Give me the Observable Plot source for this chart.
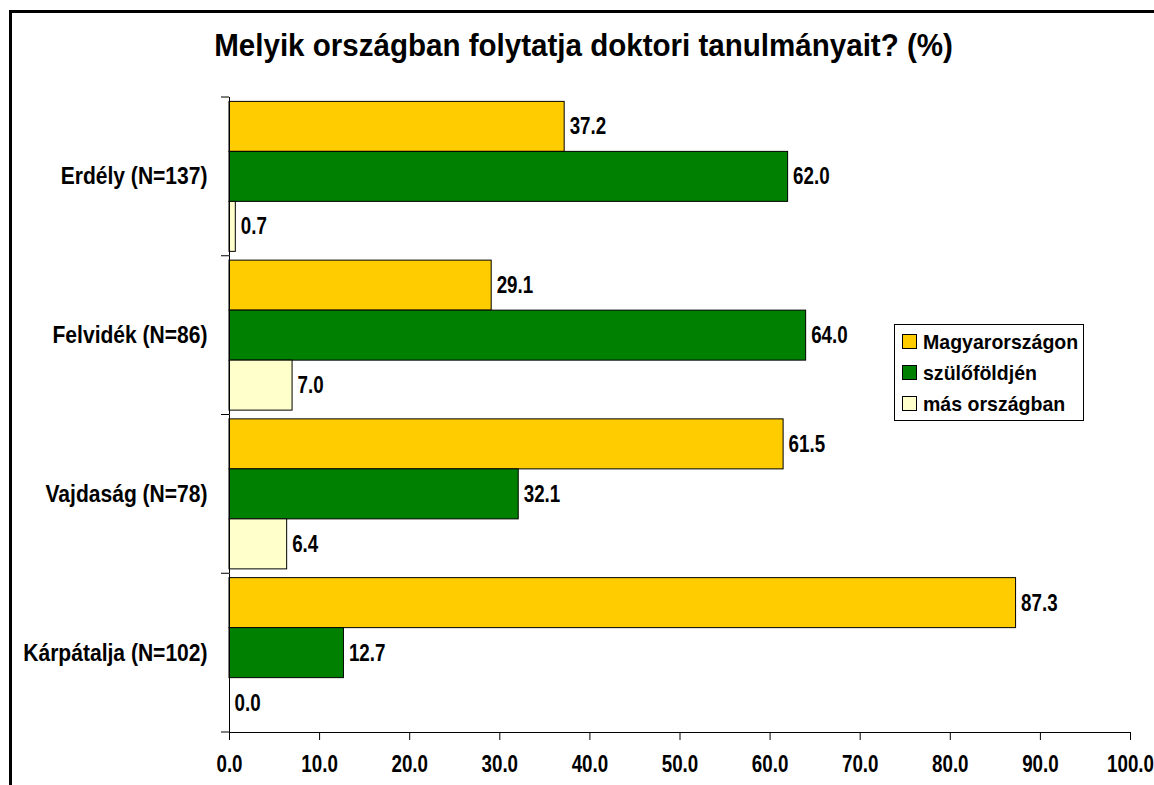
<!DOCTYPE html>
<html>
<head>
<meta charset="utf-8">
<script src="https://cdn.jsdelivr.net/npm/d3@7"></script>
<script src="https://cdn.jsdelivr.net/npm/@observablehq/plot@0.6"></script>
<style>
  html, body { margin: 0; padding: 0; background: #fff; overflow: hidden; width: 1154px; height: 785px; }
  #wrap { position: relative; width: 1154px; height: 785px; overflow: hidden; }
  #frame { position: absolute; left: 9px; top: 10px; width: 1200px; height: 900px; border: 3px solid #000; box-sizing: border-box; pointer-events: none; }
  #title { position: absolute; left: 10px; width: 1148px; top: 28px; text-align: center;
    font-family: "Liberation Sans", Arial, sans-serif; font-weight: bold; font-size: 31px; line-height: 36px; color: #000; }
  #title span { display: inline-block; transform: scaleX(0.953); transform-origin: center; white-space: nowrap; }
  #legend { position: absolute; left: 894px; top: 324px; width: 190px; height: 97px; border: 1px solid #000; box-sizing: border-box; background: #fff;
    font-family: "Liberation Sans", Arial, sans-serif; font-weight: bold; font-size: 21px; }
  .item { position: absolute; left: 7px; height: 24px; line-height: 24px; white-space: nowrap; }
  .sw { display: inline-block; width: 13px; height: 13px; border: 1px solid #000; vertical-align: middle; margin-right: 6px; position: relative; top: -2px; }
  .lt { display: inline-block; transform: scaleX(0.93); transform-origin: left center; }
  #chart { position: absolute; left: 0; top: 0; }
</style>
</head>
<body>
<div id="wrap">
  <div id="chart"></div>
  <div id="title"><span>Melyik országban folytatja doktori tanulmányait? (%)</span></div>
  <div id="legend"></div>
  <div id="frame"></div>
</div>
<script>
const regions = ["Erdély (N=137)", "Felvidék (N=86)", "Vajdaság (N=78)", "Kárpátalja (N=102)"];
const series = ["Magyarországon", "szülőföldjén", "más országban"];
const magyarorszagon = [37.2, 29.1, 61.5, 87.3];
const szulofoldjen = [62.0, 64.0, 32.1, 12.7];
const masOrszagban = [0.7, 7.0, 6.4, 0.0];
const colors = ["#FFCC00", "#008000", "#FFFFCC"];
const xTicks = [0, 10, 20, 30, 40, 50, 60, 70, 80, 90, 100];

const seriesValues = [magyarorszagon, szulofoldjen, masOrszagban];
const rows = [];
regions.forEach((r, i) => {
  series.forEach((s, j) => rows.push({region: r, series: s, value: seriesValues[j][i]}));
});

const FONT = '"Liberation Sans", Arial, sans-serif';

const chart = Plot.plot({
  width: 1154,
  height: 785,
  marginLeft: 229,
  marginRight: 24,
  marginTop: 97,
  marginBottom: 53,
  style: {fontFamily: FONT, fontSize: "23px", fontWeight: "bold", color: "#000", background: "transparent", overflow: "visible"},
  facet: {data: rows, y: "region"},
  fy: {domain: regions, padding: 0, round: false, axis: "left", label: null, tickSize: 0, tickPadding: 22},
  y: {domain: series, axis: null, paddingInner: 0, paddingOuter: 0.0875, round: false},
  x: {domain: [0, 100], ticks: xTicks, tickFormat: d => d.toFixed(1), tickSize: 8, tickPadding: 15, label: null, line: true},
  color: {domain: series, range: colors},
  marks: [
    Plot.barX(rows, {x: "value", y: "series", fill: "series", stroke: "#000", strokeWidth: 1}),
    Plot.text(rows, {x: "value", y: "series", text: d => d.value.toFixed(1), textAnchor: "start", dx: 5, fill: "#000"}),
    Plot.ruleX([0], {stroke: "#000", strokeWidth: 1})
  ]
});
document.getElementById("chart").appendChild(chart);

// band boundary ticks on the category axis, from the library's scales
const fy = chart.scale("fy");
const xs = chart.scale("x");
const x0 = xs.apply(0);
const bounds = regions.map(r => fy.apply(r)).concat([fy.apply(regions[regions.length - 1]) + fy.bandwidth]);
d3.select(chart).append("g")
  .selectAll("line").data(bounds).join("line")
  .attr("x1", x0 - 8).attr("x2", x0)
  .attr("y1", d => d).attr("y2", d => d)
  .attr("stroke", "#000").attr("stroke-width", 1);

// narrow the glyphs to mimic the condensed bold face of the original
d3.select(chart).selectAll("text").each(function () {
  const t = this.textContent;
  const k = regions.includes(t) ? 0.915 : 0.815;
  const L = this.getComputedTextLength();
  if (L > 0) {
    this.setAttribute("textLength", L * k);
    this.setAttribute("lengthAdjust", "spacingAndGlyphs");
  }
});

// legend
const lg = document.getElementById("legend");
series.forEach((s, j) => {
  const it = document.createElement("div");
  it.className = "item";
  it.style.top = (5 + j * 31) + "px";
  it.innerHTML = `<span class="sw" style="background:${colors[j]}"></span><span class="lt">${s}</span>`;
  lg.appendChild(it);
});
</script>
</body>
</html>
